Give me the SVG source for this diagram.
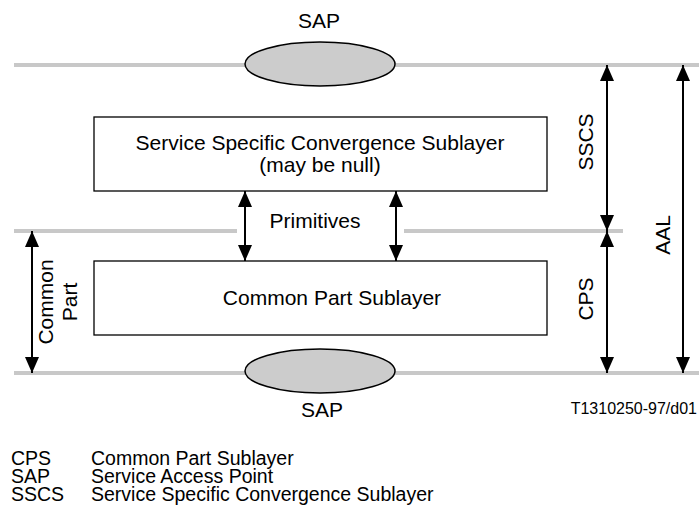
<svg xmlns="http://www.w3.org/2000/svg" width="699" height="517" viewBox="0 0 699 517">
<style>
text{font-family:"Liberation Sans",Arial,sans-serif;font-size:21px;fill:#000}
.small{font-size:16px}
.leg{font-size:19.5px}
.grey{stroke:#c8c8c8;stroke-width:4;fill:none}
.box{fill:#fff;stroke:#000;stroke-width:1.3}
.sap{fill:#cccccc;stroke:#000;stroke-width:1.5}
.arr{stroke:#000;stroke-width:2;fill:none;marker-start:url(#ah);marker-end:url(#ah)}
</style>
<defs>
<marker id="ah" viewBox="0 0 16 14" refX="16" refY="7" markerWidth="16" markerHeight="14" markerUnits="userSpaceOnUse" orient="auto-start-reverse">
<path d="M0,0 L16,7 L0,14 Z" fill="#000"/>
</marker>
</defs>
<g id="layers">
<line class="grey" x1="14" y1="65" x2="699" y2="65"/>
<line class="grey" x1="14" y1="231" x2="237" y2="231"/>
<line class="grey" x1="404" y1="231" x2="623" y2="231"/>
<line class="grey" x1="14" y1="373" x2="699" y2="373"/>
</g>
<g id="sap-top">
<ellipse class="sap" cx="320" cy="64" rx="75" ry="22"/>
<text x="319" y="28" text-anchor="middle">SAP</text>
</g>
<g id="sap-bottom">
<ellipse class="sap" cx="320" cy="371" rx="75" ry="22"/>
<text x="322" y="417" text-anchor="middle">SAP</text>
</g>
<g id="sscs">
<rect class="box" x="94" y="117" width="453" height="74"/>
<text x="320" y="150" text-anchor="middle">Service Specific Convergence Sublayer</text>
<text x="320" y="172" text-anchor="middle">(may be null)</text>
</g>
<g id="cps">
<rect class="box" x="94" y="261" width="453" height="74"/>
<text x="332" y="305" text-anchor="middle">Common Part Sublayer</text>
</g>
<g id="connectors">
<line class="arr" x1="245" y1="191" x2="245" y2="261"/>
<line class="arr" x1="396" y1="191" x2="396" y2="261"/>
<line class="arr" x1="607" y1="65" x2="607" y2="231"/>
<line class="arr" x1="607" y1="231" x2="607" y2="373"/>
<line class="arr" x1="683" y1="65" x2="683" y2="373"/>
<line class="arr" x1="32" y1="231" x2="32" y2="373"/>
</g>
<g id="labels">
<text x="315" y="228" text-anchor="middle">Primitives</text>
<text transform="translate(593,142) rotate(-90)" text-anchor="middle">SSCS</text>
<text transform="translate(593,299) rotate(-90)" text-anchor="middle">CPS</text>
<text transform="translate(670,235) rotate(-90)" text-anchor="middle">AAL</text>
<text transform="translate(53,302) rotate(-90)" text-anchor="middle">Common</text>
<text transform="translate(77,302) rotate(-90)" text-anchor="middle">Part</text>
<text class="small" x="697" y="414" text-anchor="end">T1310250-97/d01</text>
</g>
<g id="legend">
<text class="leg" x="11" y="465">CPS</text><text class="leg" x="91" y="465">Common Part Sublayer</text>
<text class="leg" x="11" y="483">SAP</text><text class="leg" x="91" y="483">Service Access Point</text>
<text class="leg" x="11" y="501">SSCS</text><text class="leg" x="91" y="501">Service Specific Convergence Sublayer</text>
</g>
</svg>
